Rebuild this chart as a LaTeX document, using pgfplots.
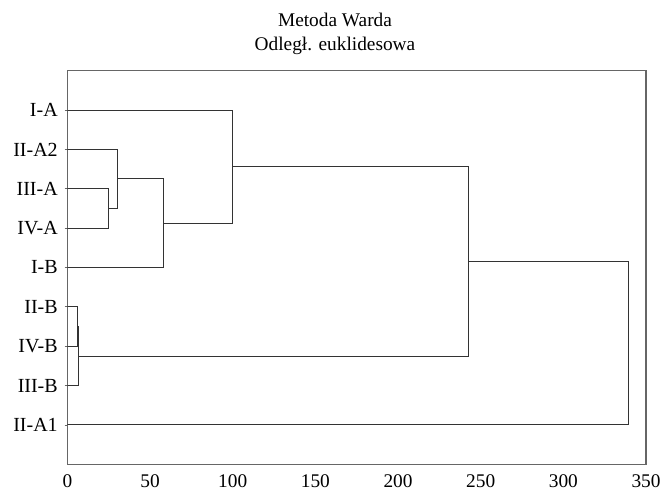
\documentclass[border=0pt]{standalone}
\usepackage{fontspec}
\setmainfont{Liberation Serif}
\usepackage{pgfplots}
\pgfplotsset{compat=1.18}
\begin{document}
\begin{tikzpicture}
\useasboundingbox (0,0) rectangle (497.25pt,367.5pt);
\begin{axis}[
  at={(50.5pt,19.3pt)}, anchor=south west,
  scale only axis, width=434pt, height=295.2pt,
  xmin=0, xmax=350, ymin=0, ymax=10,
  y dir=reverse,
  axis line style={black!60, line width=0.9pt},
  /pgf/number format/assume math mode=true,
  xtick={0,50,...,350},
  ytick={1,2,3,4,5,6,7,8,9},
  yticklabels={I-A,II-A2,III-A,IV-A,I-B,II-B,IV-B,III-B,II-A1},
  tick label style={font=\fontsize{14.5}{17}\selectfont, inner sep=0pt},
  xticklabel style={anchor=north, yshift=-5.5pt},
  yticklabel style={anchor=east, xshift=-5pt, font=\fontsize{15}{18}\selectfont},
  xtick style={draw=none},
  ytick style={black!60, line width=0.6pt},
  major tick length=2pt, tick align=outside,
  tick pos=left,
  dendro/.style={black!80, line width=0.75pt, mark=none, solid},
]
\addplot[dendro] coordinates {(0,3) (25,3) (25,4) (0,4)};
\addplot[dendro] coordinates {(0,2) (30.5,2) (30.5,3.5) (25,3.5)};
\addplot[dendro] coordinates {(30.5,2.75) (58.4,2.75) (58.4,5) (0,5)};
\addplot[dendro] coordinates {(0,1) (100,1) (100,3.875) (58.4,3.875)};
\addplot[dendro] coordinates {(0,6) (5.9,6) (5.9,7) (0,7)};
\addplot[dendro] coordinates {(5.9,6.5) (6.9,6.5) (6.9,8) (0,8)};
\addplot[dendro] coordinates {(100,2.4375) (242.8,2.4375) (242.8,7.25) (6.9,7.25)};
\addplot[dendro] coordinates {(242.8,4.84375) (339.4,4.84375) (339.4,9) (0,9)};
\end{axis}
\node[anchor=base, font=\fontsize{14.5}{17}\selectfont, inner sep=0pt] at (251.25pt,347.25pt) {Metoda Warda};
\node[anchor=base, font=\fontsize{14.5}{17}\selectfont, inner sep=0pt] at (251.25pt,329.25pt) {Odległ. euklidesowa};
\end{tikzpicture}
\end{document}
